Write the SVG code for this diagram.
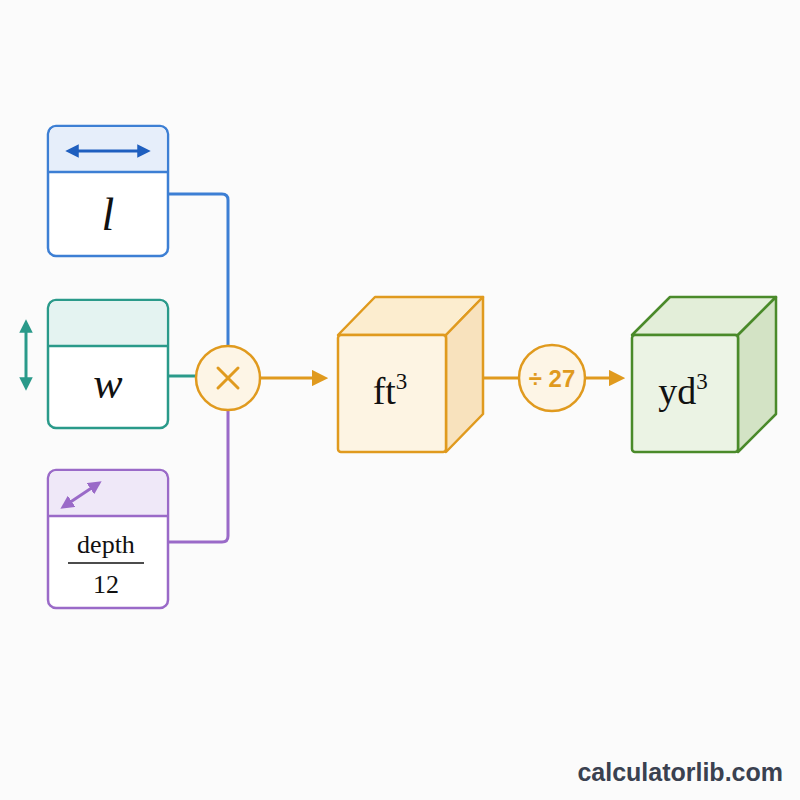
<svg xmlns="http://www.w3.org/2000/svg" width="800" height="800" viewBox="0 0 800 800">
<defs>
<style>
.serif{font-family:"Liberation Serif","DejaVu Serif",serif;fill:#111}
.sans{font-family:"Liberation Sans","DejaVu Sans",sans-serif}
</style>
<marker id="ab" viewBox="0 0 10 10" refX="5" refY="5" markerWidth="4.5" markerHeight="4.5" orient="auto-start-reverse"><path d="M0,0L10,5L0,10z" fill="#1f5fbf"/></marker>
<marker id="at" viewBox="0 0 10 10" refX="5" refY="5" markerWidth="4.5" markerHeight="4.5" orient="auto-start-reverse"><path d="M0,0L10,5L0,10z" fill="#2a9a8a"/></marker>
<marker id="ap" viewBox="0 0 10 10" refX="5" refY="5" markerWidth="4.5" markerHeight="4.5" orient="auto-start-reverse"><path d="M0,0L10,5L0,10z" fill="#9a6ac8"/></marker>
<marker id="ao" viewBox="0 0 10 10" refX="5" refY="5" markerWidth="5.5" markerHeight="5.5" orient="auto"><path d="M0,0L10,5L0,10z" fill="#e09a1e"/></marker>
</defs>
<rect width="800" height="800" fill="#fbfbfb"/>
<g id="connectors" fill="none" stroke-width="3">
<path d="M168,194H222Q228,194 228,200V346" stroke="#3d7fd4"/>
<path d="M168,542H222Q228,542 228,536V410" stroke="#9a6ac8"/>
<path d="M168,376H196" stroke="#2a9a8a"/>
<path d="M260,378H320" stroke="#e09a1e" marker-end="url(#ao)"/>
<path d="M446,378H519" stroke="#e09a1e"/>
<path d="M585,378H617" stroke="#e09a1e" marker-end="url(#ao)"/>
</g>
<g id="node-l">
<rect x="48" y="126" width="120" height="130" rx="8" fill="#fff" stroke="#3d7fd4" stroke-width="2.5"/>
<path d="M49.5,172V134a7,7 0 0 1 7,-7H159.5a7,7 0 0 1 7,7V172z" fill="#e6eefa"/>
<line x1="48" y1="172" x2="168" y2="172" stroke="#3d7fd4" stroke-width="2.5"/>
<line x1="72" y1="151" x2="144" y2="151" stroke="#1f5fbf" stroke-width="3" marker-start="url(#ab)" marker-end="url(#ab)"/>
<text x="108" y="230" class="serif" font-size="46" font-style="italic" text-anchor="middle">l</text>
</g>
<g id="node-w">
<line x1="26" y1="326" x2="26" y2="384" stroke="#2a9a8a" stroke-width="3" marker-start="url(#at)" marker-end="url(#at)"/>
<rect x="48" y="300" width="120" height="128" rx="8" fill="#fff" stroke="#2a9a8a" stroke-width="2.5"/>
<path d="M49.5,346V308a7,7 0 0 1 7,-7H159.5a7,7 0 0 1 7,7V346z" fill="#e4f3f1"/>
<line x1="48" y1="346" x2="168" y2="346" stroke="#2a9a8a" stroke-width="2.5"/>
<text x="108" y="398" class="serif" font-size="44" font-style="italic" text-anchor="middle">w</text>
</g>
<g id="node-depth">
<rect x="48" y="470" width="120" height="138" rx="8" fill="#fff" stroke="#9a6ac8" stroke-width="2.5"/>
<path d="M49.5,516V478a7,7 0 0 1 7,-7H159.5a7,7 0 0 1 7,7V516z" fill="#efe8f8"/>
<line x1="48" y1="516" x2="168" y2="516" stroke="#9a6ac8" stroke-width="2.5"/>
<line x1="66" y1="505" x2="96" y2="485" stroke="#9a6ac8" stroke-width="3" marker-start="url(#ap)" marker-end="url(#ap)"/>
<text x="106" y="553" class="serif" font-size="26" text-anchor="middle">depth</text>
<line x1="68" y1="563" x2="144" y2="563" stroke="#111" stroke-width="1.5"/>
<text x="106" y="593" class="serif" font-size="26" text-anchor="middle">12</text>
</g>
<g id="node-multiply">
<circle cx="228" cy="378" r="32" fill="#fdf5e6" stroke="#e09a1e" stroke-width="2.5"/>
<path d="M218,368L238,388M238,368L218,388" stroke="#e09a1e" stroke-width="3" stroke-linecap="round"/>
</g>
<g id="node-ft3" stroke="#e09a1e" stroke-width="2.5" stroke-linejoin="round">
<path d="M338,335L375,297H483L446,335z" fill="#fcedcf"/>
<path d="M446,335L483,297V414L446,452z" fill="#f8e2bd"/>
<rect x="338" y="335" width="108" height="117" rx="3" fill="#fdf4e3"/>
<text x="390" y="404" class="serif" font-size="38" text-anchor="middle" stroke="none">ft<tspan font-size="23" dy="-15">3</tspan></text>
</g>
<g id="node-div27">
<circle cx="552" cy="378" r="33" fill="#fdf5e6" stroke="#e09a1e" stroke-width="2.5"/>
<text x="552" y="387" class="sans" font-size="24" font-weight="bold" fill="#e09a1e" text-anchor="middle">÷ 27</text>
</g>
<g id="node-yd3" stroke="#4a8a2a" stroke-width="2.5" stroke-linejoin="round">
<path d="M632,335L670,297H776L738,335z" fill="#e3eed9"/>
<path d="M738,335L776,297V414L738,452z" fill="#d3e3c5"/>
<rect x="632" y="335" width="106" height="117" rx="3" fill="#ebf3e4"/>
<text x="683" y="404" class="serif" font-size="38" text-anchor="middle" stroke="none">yd<tspan font-size="23" dy="-15">3</tspan></text>
</g>
<text x="783" y="781" class="sans" font-size="25" font-weight="bold" fill="#3a4150" text-anchor="end">calculatorlib.com</text>
</svg>
